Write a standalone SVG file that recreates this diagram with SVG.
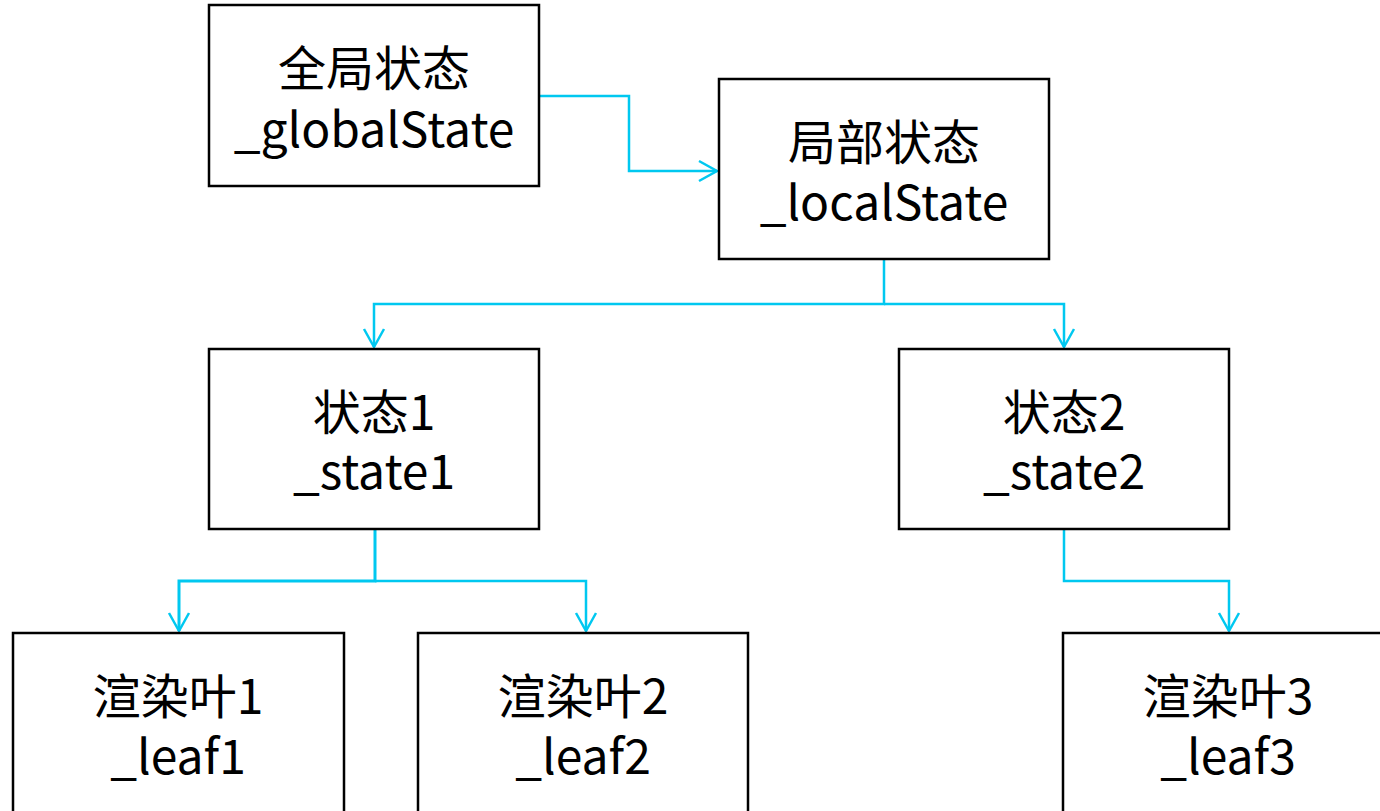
<svg xmlns="http://www.w3.org/2000/svg" width="1380" height="811" viewBox="0 0 1380 811">
<style>
.box{fill:#fff;stroke:#000;stroke-width:2.5}
.t{font-family:"Microsoft YaHei","Noto Sans CJK SC","Noto Sans",sans-serif;font-size:48px;fill:#000;text-anchor:middle}
.c{fill:none;stroke:#00C8F0;stroke-width:2.5}
</style>
<defs>
<marker id="a" markerUnits="userSpaceOnUse" markerWidth="24" markerHeight="24" refX="20" refY="12" orient="auto">
<path d="M2,2 L20,12 L2,22" fill="none" stroke="#00C8F0" stroke-width="2.5"/>
</marker>
</defs>
<rect width="1380" height="811" fill="#fff"/>
<g id="connectors">
<path class="c" d="M540,96 H629 V171 H717" marker-end="url(#a)"/>
<path class="c" d="M884,260 V304 H374 V347" marker-end="url(#a)"/>
<path class="c" d="M884,304 H1064 V347" marker-end="url(#a)"/>
<path class="c" d="M375,530 V581 H179 V631" marker-end="url(#a)" style="stroke-width:3"/>
<path class="c" d="M375,581 H586 V631" marker-end="url(#a)"/>
<path class="c" d="M1064,530 V581 H1229 V631" marker-end="url(#a)"/>
</g>
<g id="global">
<rect class="box" x="209" y="5" width="330" height="181"/>
<text class="t" x="374" y="86">全局状态</text>
<text class="t" x="374" y="147">_globalState</text>
</g>
<g id="local">
<rect class="box" x="719" y="79" width="330" height="180"/>
<text class="t" x="884" y="160">局部状态</text>
<text class="t" x="884" y="220">_localState</text>
</g>
<g id="state1">
<rect class="box" x="209" y="349" width="330" height="180"/>
<text class="t" x="374" y="430">状态1</text>
<text class="t" x="374" y="489">_state1</text>
</g>
<g id="state2">
<rect class="box" x="899" y="349" width="330" height="180"/>
<text class="t" x="1064" y="430">状态2</text>
<text class="t" x="1064" y="489">_state2</text>
</g>
<g id="leaf1">
<rect class="box" x="13" y="633" width="331" height="182"/>
<text class="t" x="178" y="714">渲染叶1</text>
<text class="t" x="178" y="774">_leaf1</text>
</g>
<g id="leaf2">
<rect class="box" x="418" y="633" width="330" height="182"/>
<text class="t" x="583" y="714">渲染叶2</text>
<text class="t" x="583" y="774">_leaf2</text>
</g>
<g id="leaf3">
<rect class="box" x="1063" y="633" width="330" height="182"/>
<text class="t" x="1228" y="714">渲染叶3</text>
<text class="t" x="1228" y="774">_leaf3</text>
</g>
</svg>
